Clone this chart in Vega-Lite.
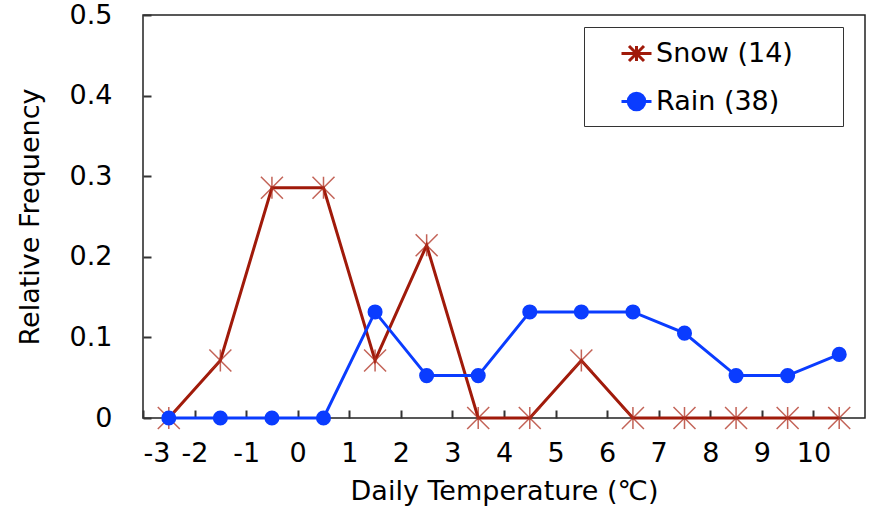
{
  "$schema": "https://vega.github.io/schema/vega-lite/v6.json",
  "width": 722,
  "height": 403,
  "autosize": {"type": "none"},
  "padding": {"left": 143, "top": 15, "right": 7, "bottom": 94},
  "background": "white",
  "config": {
    "font": "DejaVu Sans",
    "view": {"stroke": "#222", "strokeWidth": 1.5},
    "axis": {
      "grid": false,
      "labelFontSize": 27,
      "labelColor": "#000",
      "labelOverlap": false,
      "titleFontSize": 27,
      "titleFontWeight": "normal",
      "titleColor": "#000"
    },
    "legend": {
      "orient": "none",
      "legendX": 441,
      "legendY": 12,
      "strokeColor": "#333",
      "fillColor": "white",
      "padding": 10,
      "symbolOffset": 26,
      "symbolSize": 900,
      "symbolStrokeWidth": 3,
      "labelFontSize": 27,
      "labelColor": "#000",
      "labelOffset": 3,
      "labelLimit": 400,
      "rowPadding": 18
    }
  },
  "data": {
    "values": [
      {"temp": -2.5, "series": "Snow (14)", "freq": 0},
      {"temp": -1.5, "series": "Snow (14)", "freq": 0.0714},
      {"temp": -0.5, "series": "Snow (14)", "freq": 0.2857},
      {"temp": 0.5, "series": "Snow (14)", "freq": 0.2857},
      {"temp": 1.5, "series": "Snow (14)", "freq": 0.0714},
      {"temp": 2.5, "series": "Snow (14)", "freq": 0.2143},
      {"temp": 3.5, "series": "Snow (14)", "freq": 0},
      {"temp": 4.5, "series": "Snow (14)", "freq": 0},
      {"temp": 5.5, "series": "Snow (14)", "freq": 0.0714},
      {"temp": 6.5, "series": "Snow (14)", "freq": 0},
      {"temp": 7.5, "series": "Snow (14)", "freq": 0},
      {"temp": 8.5, "series": "Snow (14)", "freq": 0},
      {"temp": 9.5, "series": "Snow (14)", "freq": 0},
      {"temp": 10.5, "series": "Snow (14)", "freq": 0},
      {"temp": -2.5, "series": "Rain (38)", "freq": 0},
      {"temp": -1.5, "series": "Rain (38)", "freq": 0},
      {"temp": -0.5, "series": "Rain (38)", "freq": 0},
      {"temp": 0.5, "series": "Rain (38)", "freq": 0},
      {"temp": 1.5, "series": "Rain (38)", "freq": 0.1316},
      {"temp": 2.5, "series": "Rain (38)", "freq": 0.0526},
      {"temp": 3.5, "series": "Rain (38)", "freq": 0.0526},
      {"temp": 4.5, "series": "Rain (38)", "freq": 0.1316},
      {"temp": 5.5, "series": "Rain (38)", "freq": 0.1316},
      {"temp": 6.5, "series": "Rain (38)", "freq": 0.1316},
      {"temp": 7.5, "series": "Rain (38)", "freq": 0.1053},
      {"temp": 8.5, "series": "Rain (38)", "freq": 0.0526},
      {"temp": 9.5, "series": "Rain (38)", "freq": 0.0526},
      {"temp": 10.5, "series": "Rain (38)", "freq": 0.0789}
    ]
  },
  "encoding": {
    "x": {
      "field": "temp",
      "type": "quantitative",
      "scale": {"domain": [-3, 11], "nice": false, "zero": false},
      "axis": {"values": [-3, -2, -1, 0, 1, 2, 3, 4, 5, 6, 7, 8, 9, 10], "labelExpr": "'' + datum.value", "title": "Daily Temperature (℃)", "domain": false, "ticks": true, "tickSize": 8, "tickColor": "#333", "tickWidth": 2, "offset": -8, "labelPadding": 22, "titlePadding": 12}
    },
    "y": {
      "field": "freq",
      "type": "quantitative",
      "scale": {"domain": [0, 0.5], "nice": false},
      "axis": {"values": [0, 0.1, 0.2, 0.3, 0.4, 0.5], "format": "~g", "title": "Relative Frequency", "domain": false, "ticks": true, "tickSize": 8, "tickColor": "#333", "tickWidth": 2, "offset": -8, "labelPadding": 31, "titlePadding": 25}
    }
  },
  "layer": [
    {
      "mark": {"type": "line", "strokeWidth": 3},
      "encoding": {
        "color": {
          "field": "series",
          "type": "nominal",
          "scale": {"domain": ["Snow (14)", "Rain (38)"], "range": ["#a01a0a", "#0a3cff"]},
          "legend": {
            "title": null,
            "labelExpr": "datum.label + '\u2800\u2800'",
            "encode": {
              "symbols": {
                "update": {
                  "shape": {"signal": "datum.value === 'Snow (14)' ? 'M-1,0H1M-0.5,-0.5L0.5,0.5M-0.5,0.5L0.5,-0.5M0,-0.5V0.5' : 'M-1,0H1M0.55,0A0.55,0.55,0,1,1,-0.55,0A0.55,0.55,0,1,1,0.55,0Z'"},
                  "fill": {"signal": "datum.value === 'Snow (14)' ? 'transparent' : '#0a3cff'"},
                  "strokeWidth": {"value": 3}
                }
              }
            }
          }
        }
      }
    },
    {
      "transform": [{"filter": "datum.series === 'Snow (14)'"}],
      "mark": {"type": "point", "shape": "M-1,-1L1,1M-1,1L1,-1M0,-1V1", "filled": false, "size": 484, "strokeWidth": 1.5, "color": "#b03020", "opacity": 0.75}
    },
    {
      "transform": [{"filter": "datum.series === 'Rain (38)'"}],
      "mark": {"type": "circle", "size": 227, "color": "#0a3cff", "opacity": 1}
    }
  ]
}
